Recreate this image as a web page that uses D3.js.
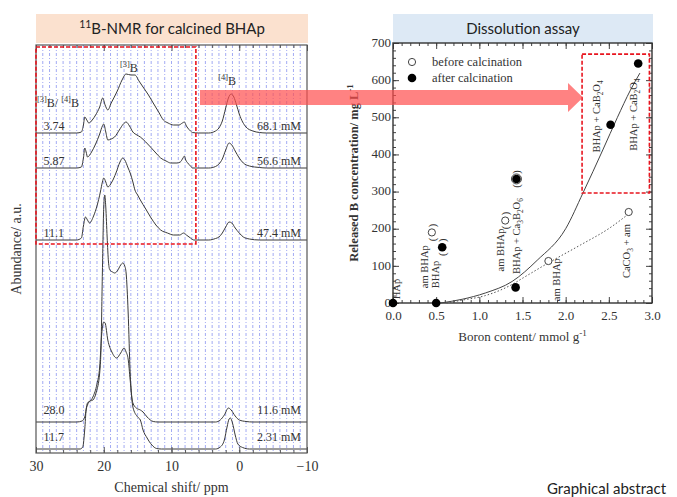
<!DOCTYPE html>
<html>
<head>
<meta charset="utf-8">
<script src="https://cdn.jsdelivr.net/npm/d3@7"></script>
<style>
  body { margin: 0; background: #fff; }
  text { font-family: "Liberation Serif", "Times New Roman", serif; fill: #333; }
  text.sans { font-family: Lato, "Open Sans", sans-serif; fill: #222; }
</style>
</head>
<body>
<div id="container"></div>
<script>
"use strict";

const plotWidth = 677;
const plotHeight = 497;

// ---- 11B NMR spectra: [ppm, height a.u.] ----
const spec374 = [[30,0],[24,0],[23.3,1],[23.0,8],[22.8,16],[22.5,13],[22.2,10],[21.7,13],[21.2,18],[20.6,26],[20.15,35],[19.8,28],[19.4,23],[18.9,30],[18.0,42],[17.3,53],[16.7,59],[16.0,58],[15.4,58],[14.8,52],[14.2,46],[13.4,38],[12.7,30],[11.9,21],[11.2,13],[10.5,10],[9.7,8],[8.9,8],[8.4,10],[8.1,11],[7.8,7],[7.6,5],[7.2,2],[6.9,0.5],[6,0],[4.5,0],[3.5,2],[3.0,5],[2.5,12],[2.0,25],[1.6,35],[1.2,39],[0.8,36],[0.4,28],[0,19],[-0.5,11],[-1,6],[-2,2],[-3,0.5],[-4,0],[-10,0]];
const spec587 = [[30,0],[24,0],[23.3,1],[23.0,10],[22.8,20],[22.6,16],[22.4,11],[21.8,16],[21.2,24],[20.6,34],[20.2,42],[20.0,44],[19.7,36],[19.4,28],[18.9,29],[18.4,31],[17.7,38],[17.1,44],[16.7,46],[16.2,42],[15.7,36],[15.1,33],[14.6,31],[13.8,26],[13.1,21],[12.3,15],[11.6,10],[10.8,7],[10.1,5],[9.2,5],[8.7,6],[8.3,10],[8.1,12],[7.9,8],[7.6,5],[7.2,2],[6.9,0],[4.5,0],[3.5,1.5],[3.0,4],[2.5,9],[2.0,18],[1.5,25],[1.1,23],[0.6,17],[0,10],[-0.6,5],[-1.5,2],[-3,0.5],[-4,0],[-10,0]];
const spec111 = [[30,0],[24,0],[23.3,2],[23.0,14],[22.7,23],[22.4,20],[22.1,17],[21.5,24],[21.0,34],[20.5,48],[20.2,58],[20.0,62],[19.7,58],[19.4,53],[18.8,58],[18.2,67],[17.6,78],[17.2,82],[16.9,80],[16.4,72],[16.1,67],[15.7,58],[15.4,50],[15.0,45],[14.6,40],[13.8,31],[13.1,23],[12.3,15],[11.6,10],[10.6,7],[9.7,5],[8.8,5],[8.2,7],[7.8,5],[7.2,2],[6.7,0],[4.5,0],[3.5,1.5],[3.0,3],[2.5,7],[2.0,13],[1.5,18],[1.1,17],[0.6,12],[0,7],[-0.6,3],[-1.5,1],[-3,0],[-10,0]];
const spec280 = [[30,0],[24,0],[23.2,1],[22.8,5],[22.4,19],[22.0,21],[21.6,22],[21.1,30],[20.6,49],[20.4,75],[20.2,150],[20.0,215],[19.85,227],[19.7,215],[19.5,185],[19.3,160],[19.1,152],[18.7,150],[18.4,149],[18.0,151],[17.5,157],[17.2,159],[16.9,156],[16.7,149],[16.4,110],[16.1,49],[15.7,19],[15.2,14],[14.6,12],[14.2,10],[13.6,5],[12.7,0.5],[12,0],[3.5,0],[2.8,2],[2.2,7],[1.6,14],[1.2,12],[0.6,6],[0,2],[-1,0.5],[-2,0],[-10,0]];
const spec117 = [[30,0],[23.5,0],[23.1,2],[22.8,20],[22.6,39],[22.4,44],[21.6,52],[21.0,65],[20.6,82],[20.3,115],[20.0,127],[19.8,126],[19.4,109],[18.8,97],[18.1,91],[17.5,96],[17.0,101],[16.7,97],[16.4,90],[16.1,69],[15.7,42],[15.0,32],[14.6,29],[14.2,19],[13.6,11],[12.9,4],[12.2,0.5],[11.5,0],[3.5,0],[2.8,2],[2.2,9],[1.8,22],[1.5,30],[1.3,31],[1.0,26],[0.6,14],[0.2,5],[-0.5,1.5],[-1.5,0],[-10,0]];

const spectra = [spec374, spec587, spec111, spec280, spec117];
const spectrumOffset = [320, 285, 213, 31, 4];
const ratioLabels = ["3.74", "5.87", "11.1", "28.0", "11.7"];
const releaseLabels = ["68.1 mM", "56.6 mM", "47.4 mM", "11.6 mM", "2.31 mM"];
const nmrTicks = [30, 20, 10, 0, -10];

// ---- dissolution assay ----
const beforeBoron = [0.45, 1.30, 1.43, 1.80, 2.73];
const beforeConc = [190, 222, 334, 113, 245];
const afterBoron = [0.0, 0.5, 0.57, 1.42, 1.43, 2.52, 2.84];
const afterConc = [0, 0, 150, 42, 334, 480, 645];
const fitAfter = [[0.55,0],[0.8,10],[1.07,27],[1.38,58],[1.67,115],[2.0,200],[2.2,296],[2.43,412],[2.6,500],[2.75,573],[2.86,619]];
const fitBefore = [[0.62,0],[0.81,8],[1.07,20],[1.38,50],[1.51,68],[1.8,108],[2.17,156],[2.51,202],[2.73,240]];
const sampleLabels = ["HAp", "am BHAp", "BHAp", "am BHAp", "BHAp + Ca_{3}B_{2}O_{6}", "am BHAp", "CaCO_{3} + am", "BHAp + CaB_{2}O_{4}", "BHAp + CaB_{2}O_{4}"];
const labelBoron = [0.08, 0.41, 0.53, 1.28, 1.47, 1.94, 2.74, 2.40, 2.83];
const labelConc = [10, 40, 40, 85, 78, 5, 67, 405, 410];
const parenBoron = [0.45, 0.57, 1.30, 1.43];
const parenConc = [190, 150, 222, 334];
const concTicks = [0, 100, 200, 300, 400, 500, 600, 700];
const boronTicks = [0, 0.5, 1.0, 1.5, 2.0, 2.5, 3.0];

// writes "a_{2}" / "a^{-1}" as tspans
function richText(textSel, str, fs) {
  const parts = str.split(/([_^]\{[^}]*\})/).filter(s => s);
  let shift = 0;
  parts.forEach(p => {
    let target = 0;
    let content = p;
    let size = fs;
    if (p[0] === "_") { target = 0.3 * fs; content = p.slice(2, -1); size = fs * 0.7; }
    if (p[0] === "^") { target = -0.42 * fs; content = p.slice(2, -1); size = fs * 0.7; }
    textSel.append("tspan")
      .attr("dy", target - shift)
      .style("font-size", size + "px")
      .text(content);
    shift = target;
  });
}

function plotGraph() {
  const svg = d3.select("#container")
    .append("svg")
    .attr("width", plotWidth)
    .attr("height", plotHeight);

  // ================= left: NMR =================
  const xNmr = d3.scaleLinear().domain([30, -10]).range([36, 307]);
  const yNmr = d3.scaleLinear().domain([0, 408]).range([453, 45]);

  svg.append("rect")
    .attr("x", 36).attr("y", 14).attr("width", 272).attr("height", 29)
    .attr("fill", "#fbe1cf");
  const t1 = svg.append("text").attr("class", "sans")
    .attr("x", 172).attr("y", 34)
    .attr("text-anchor", "middle")
    .style("font-size", "15px");
  richText(t1, "^{11}B-NMR for calcined BHAp", 15);

  svg.append("g")
    .selectAll("line")
    .data(d3.range(29, -10, -1))
    .enter()
    .append("line")
    .attr("x1", d => xNmr(d)).attr("x2", d => xNmr(d))
    .attr("y1", yNmr(408)).attr("y2", yNmr(0))
    .attr("stroke", "#97a0f2")
    .attr("stroke-width", 0.9)
    .attr("stroke-dasharray", "3,2,1,2");

  const minorNmr = d3.range(30, -11, -2);
  [[d3.axisBottom, yNmr(0)], [d3.axisTop, yNmr(408)]].forEach(([axisFn, y]) => {
    svg.append("g")
      .attr("transform", `translate(0,${y})`)
      .call(axisFn(xNmr).tickValues(minorNmr).tickSize(-3).tickFormat(""))
      .call(g => g.select(".domain").remove())
      .selectAll("line").attr("stroke", "#555");
    svg.append("g")
      .attr("transform", `translate(0,${y})`)
      .call(axisFn(xNmr).tickValues(nmrTicks).tickSize(-6).tickFormat(""))
      .call(g => g.select(".domain").remove())
      .selectAll("line").attr("stroke", "#555");
  });

  svg.append("g")
    .attr("transform", `translate(0,${yNmr(0)})`)
    .call(d3.axisBottom(xNmr).tickValues(nmrTicks).tickSize(0).tickPadding(8).tickFormat(d3.format("d")))
    .call(g => g.select(".domain").remove())
    .selectAll("text")
    .style("font-family", "Liberation Serif")
    .style("font-size", "14px")
    .attr("fill", "#333");

  const line = d3.line()
    .x(d => xNmr(d[0]))
    .y(d => yNmr(d[1]))
    .curve(d3.curveMonotoneX);

  spectra.forEach((spec, i) => {
    svg.append("path")
      .attr("d", line(spec.map(p => [p[0], p[1] + spectrumOffset[i]])))
      .attr("fill", "none")
      .attr("stroke", "#3a3a3a")
      .attr("stroke-width", 1);
  });

  svg.append("rect")
    .attr("x", xNmr(30)).attr("y", yNmr(408))
    .attr("width", xNmr(-10) - xNmr(30)).attr("height", yNmr(0) - yNmr(408))
    .attr("fill", "none").attr("stroke", "#555").attr("stroke-width", 1.2);

  svg.append("g")
    .selectAll("text")
    .data(ratioLabels)
    .enter()
    .append("text")
    .attr("x", xNmr(28.9))
    .attr("y", (d, i) => yNmr(spectrumOffset[i] + (i > 2 ? 12 : 7)))
    .attr("dy", "0.35em")
    .style("font-size", "12px")
    .text(d => d);

  svg.append("g")
    .selectAll("text")
    .data(releaseLabels)
    .enter()
    .append("text")
    .attr("x", xNmr(-9.1))
    .attr("y", (d, i) => yNmr(spectrumOffset[i] + (i > 2 ? 12 : 7)))
    .attr("dy", "0.35em")
    .attr("text-anchor", "end")
    .style("font-size", "12px")
    .text(d => d);

  const lb1 = svg.append("text").attr("x", xNmr(29.85)).attr("y", yNmr(346)).style("font-size", "12px");
  richText(lb1, "^{[3]}B/ ^{[4]}B", 12);
  const lb2 = svg.append("text").attr("x", xNmr(17.6)).attr("y", yNmr(381)).style("font-size", "12px");
  richText(lb2, "^{[3]}B", 12);
  const lb3 = svg.append("text").attr("x", xNmr(3.1)).attr("y", yNmr(368)).style("font-size", "12px");
  richText(lb3, "^{[4]}B", 12);

  svg.append("rect")
    .attr("x", xNmr(30)).attr("y", yNmr(406))
    .attr("width", xNmr(6.4) - xNmr(30)).attr("height", yNmr(209) - yNmr(406))
    .attr("fill", "none").attr("stroke", "#e8141e")
    .attr("stroke-width", 1.6).attr("stroke-dasharray", "4,2");

  svg.append("text")
    .attr("x", xNmr(10)).attr("y", 492)
    .attr("text-anchor", "middle")
    .style("font-size", "14px")
    .text("Chemical shift/ ppm");

  svg.append("text")
    .attr("transform", `translate(21,${yNmr(204)}) rotate(-90)`)
    .attr("text-anchor", "middle")
    .style("font-size", "14px")
    .text("Abundance/ a.u.");

  // ================= right: dissolution assay =================
  const xB = d3.scaleLinear().domain([0, 3]).range([393, 652]);
  const yC = d3.scaleLinear().domain([0, 700]).range([303, 43]);

  svg.append("rect")
    .attr("x", 393).attr("y", 14).attr("width", 260).attr("height", 29)
    .attr("fill", "#dde9f5");
  svg.append("text").attr("class", "sans")
    .attr("x", 523).attr("y", 34)
    .attr("text-anchor", "middle")
    .style("font-size", "15px")
    .text("Dissolution assay");

  const tickStyle = g => g.call(s => s.select(".domain").remove()).selectAll("line").attr("stroke", "#444");
  [[d3.axisBottom, yC(0)], [d3.axisTop, yC(700)]].forEach(([axisFn, y]) => {
    svg.append("g").attr("transform", `translate(0,${y})`)
      .call(axisFn(xB).tickValues(d3.range(0, 3.01, 0.1)).tickSize(-3).tickFormat(""))
      .call(tickStyle);
    svg.append("g").attr("transform", `translate(0,${y})`)
      .call(axisFn(xB).tickValues(boronTicks).tickSize(-6).tickFormat(""))
      .call(tickStyle);
  });
  [[d3.axisLeft, xB(0)], [d3.axisRight, xB(3)]].forEach(([axisFn, x]) => {
    svg.append("g").attr("transform", `translate(${x},0)`)
      .call(axisFn(yC).tickValues(d3.range(0, 701, 20)).tickSize(-3).tickFormat(""))
      .call(tickStyle);
    svg.append("g").attr("transform", `translate(${x},0)`)
      .call(axisFn(yC).tickValues(concTicks).tickSize(-6).tickFormat(""))
      .call(tickStyle);
  });

  svg.append("g")
    .attr("transform", `translate(0,${yC(0)})`)
    .call(d3.axisBottom(xB).tickValues(boronTicks).tickSize(0).tickPadding(8).tickFormat(d3.format(".1f")))
    .call(g => g.select(".domain").remove())
    .selectAll("text")
    .style("font-family", "Liberation Serif").style("font-size", "13px").attr("fill", "#333");

  svg.append("g")
    .attr("transform", `translate(${xB(0)},0)`)
    .call(d3.axisLeft(yC).tickValues(concTicks).tickSize(0).tickPadding(2).tickFormat(d3.format("d")))
    .call(g => g.select(".domain").remove())
    .selectAll("text")
    .attr("dy", "0.25em")
    .style("font-family", "Liberation Serif").style("font-size", "13px").attr("fill", "#333");

  svg.append("rect")
    .attr("x", xB(0)).attr("y", yC(700))
    .attr("width", xB(3) - xB(0)).attr("height", yC(0) - yC(700))
    .attr("fill", "none").attr("stroke", "#333").attr("stroke-width", 1.4);

  const fitLine = d3.line().x(d => xB(d[0])).y(d => yC(d[1])).curve(d3.curveMonotoneX);
  svg.append("path").attr("d", fitLine(fitAfter))
    .attr("fill", "none").attr("stroke", "#444").attr("stroke-width", 1);
  svg.append("path").attr("d", fitLine(fitBefore))
    .attr("fill", "none").attr("stroke", "#555").attr("stroke-width", 1)
    .attr("stroke-dasharray", "1.5,2");

  // rotated sample labels
  sampleLabels.forEach((s, i) => {
    const t = svg.append("text")
      .attr("transform", `translate(${xB(labelBoron[i])},${yC(labelConc[i])}) rotate(-90)`)
      .attr("dy", "0.35em")
      .style("font-size", "10.5px")
      .attr("fill", "#444");
    richText(t, s, 10.5);
  });

  svg.append("g")
    .selectAll("text")
    .data(parenBoron)
    .enter()
    .append("text")
    .attr("transform", (d, i) => `translate(${xB(d)},${yC(parenConc[i])}) rotate(-90)`)
    .attr("dy", "0.35em")
    .attr("text-anchor", "middle")
    .style("font-size", "10.5px")
    .attr("fill", "#444")
    .text("(\u2002\u2002)");

  svg.append("g")
    .selectAll("circle")
    .data(beforeBoron)
    .enter()
    .append("circle")
    .attr("cx", d => xB(d))
    .attr("cy", (d, i) => yC(beforeConc[i]))
    .attr("r", d => (d === 1.43 ? 5 : 3.6))
    .attr("fill", "#fff").attr("stroke", "#444").attr("stroke-width", 1);

  svg.append("g")
    .selectAll("circle")
    .data(afterBoron)
    .enter()
    .append("circle")
    .attr("cx", d => xB(d))
    .attr("cy", (d, i) => yC(afterConc[i]))
    .attr("r", 4.3)
    .attr("fill", "#000");

  // legend
  svg.append("circle").attr("cx", 412).attr("cy", 62).attr("r", 3.6)
    .attr("fill", "#fff").attr("stroke", "#444");
  svg.append("text").attr("x", 432).attr("y", 66).style("font-size", "12.5px").text("before calcination");
  svg.append("circle").attr("cx", 412).attr("cy", 78).attr("r", 4.3).attr("fill", "#000");
  svg.append("text").attr("x", 432).attr("y", 82).style("font-size", "12.5px").text("after calcination");

  svg.append("rect")
    .attr("x", xB(2.19)).attr("y", yC(670))
    .attr("width", xB(2.97) - xB(2.19)).attr("height", yC(296) - yC(670))
    .attr("fill", "none").attr("stroke", "#e8141e")
    .attr("stroke-width", 1.6).attr("stroke-dasharray", "4,2");

  const xl = svg.append("text")
    .attr("x", xB(1.5)).attr("y", 341)
    .attr("text-anchor", "middle")
    .style("font-size", "13px");
  richText(xl, "Boron content/ mmol g^{-1}", 13);

  const yl = svg.append("text")
    .attr("transform", `translate(358,${yC(350)}) rotate(-90)`)
    .attr("text-anchor", "middle")
    .style("font-size", "12.5px")
    .style("font-weight", "bold")
    .attr("fill", "#3a3a3a");
  richText(yl, "Released B concentration/ mg L^{-1}", 12.5);

  // arrow from spectra to assay
  svg.append("path")
    .attr("d", "M200,90 L568,90 L568,83 L583,97.5 L568,112 L568,105 L200,105 Z")
    .attr("fill", "#ff4d4d")
    .attr("opacity", 0.7);

  svg.append("text").attr("class", "sans")
    .attr("x", 547).attr("y", 494)
    .style("font-size", "15px")
    .text("Graphical abstract");
}

plotGraph();
</script>
</body>
</html>
